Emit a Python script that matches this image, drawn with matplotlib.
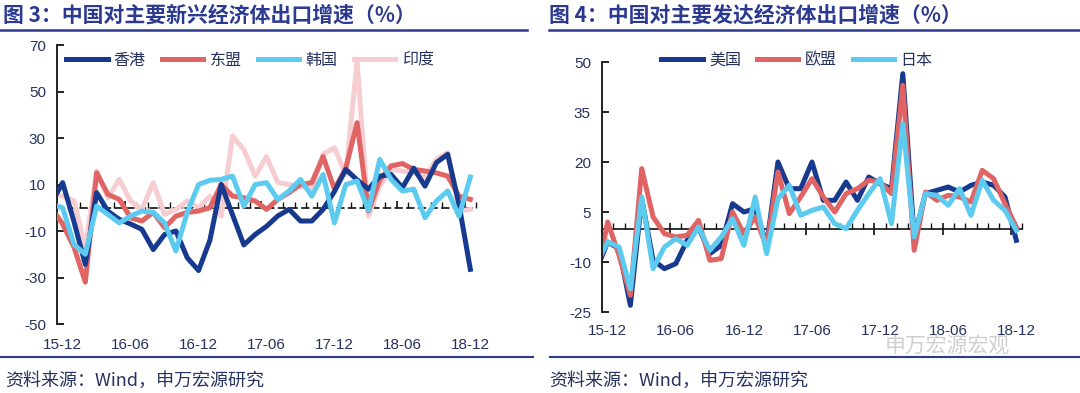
import matplotlib
matplotlib.use("Agg")
import matplotlib.pyplot as plt
import matplotlib.transforms as mtransforms
from matplotlib.lines import Line2D
import numpy as np

# monthly data, 15-11 .. 18-12 (first month only partly visible)
months = list(range(38))
tick_months = [1, 7, 13, 19, 25, 31, 37]
tick_labels = ["15-12", "16-06", "16-12", "17-06", "17-12", "18-06", "18-12"]

hongkong = [2, 10.8, -6, -24.4, 6.5, -1.5, -5, -7, -9.3, -18, -11.5, -10, -21.5, -27, -14,
            10, -3, -16, -11.5, -8, -3.5, -0.7, -5.7, -5.7, -0.7, 7, 16.5, 12, 8, 13.6,
            14.3, 8.6, 17, 9.3, 19.4, 23, 1.4, -26.5]
asean = [0, -7, -17, -32, 15, 5.7, 3.6, -4.3, -5.7, -2, -8.6, -3.6, -2, -1.4, 0,
         10, 5, 4.3, 2.9, -0.7, 3.6, 6.5, 10, 10.8, 22, 8, 17, 36.6, -1.4, 12,
         18, 19, 16.5, 15.8, 15, 13.6, 5, 3.6]
korea = [1.6, 0, -15.8, -20, 0.7, -2.9, -6.5, -3.6, -1.4, -2, -6.5, -18.6, -2, 10, 11.8,
         12.2, 13.6, 0.7, 10, 10.8, 3.6, 7.2, 12.2, 5, 14.3, -6.5, 10, 11.5, -1, 20.8,
         12.2, 7.2, 8, -4.3, 2.9, 7.2, -3.6, 13.2]
india = [6.6, 5, 3, -17, 15.8, 4.3, 12.2, 2.9, -0.7, 10.8, -2.9, -0.7, 2.9, 0, 5,
         -3.6, 30.8, 25, 13.6, 22, 10.8, 10, 9.3, 8, 23, 25.8, 14.3, 63, -3.6, 9.3,
         16.5, 15.8, 15, 13, 20.8, 23.7, -1.4, -0.7]

usa = [-12.5, -4, -6, -23, 9, -9.5, -12, -10.5, -3.5, 0.5, -7.5, -5, 7.5, 5, 6,
       -5, 20, 12, 12, 20, 8.5, 8.5, 14, 8.5, 15.5, 13.5, 12, 46.5, -2.5, 10.5,
       11.5, 12.5, 11, 13, 14, 13, 9.5, -3.5]
eu = [-15, 2, -8, -20, 18, 3.5, -1.5, -2.5, -2, 2.5, -9.5, -9, 5, -1.5, 3.5,
      -5.5, 17, 4.5, 9.5, 15, 9.5, 5, 10.5, 12, 14.5, 14, 10.5, 43, -6.5, 11,
      8.5, 10, 9.5, 8, 17.5, 15, 7.5, 0.5]
japan = [-10.6, -4, -5.5, -18, 9.5, -12, -5.5, -3, -5, 0.5, -6.5, -2.5, 3, -5, 9.5,
         -7.5, 9, 13, 4, 5.5, 6.5, 1.5, 0, 5.5, 10.5, 15, 1.5, 31.5, -2.5, 10.5,
         10, 7, 12, 4, 14.5, 8.5, 5.5, -0.5]

NAVY = "#173A8E"
RED = "#E06464"
CYAN = "#5CCBEF"
PINK = "#F6CDD0"
TITLE = "#2B3990"
TEXT = "#26325F"
CJK = ["Noto Sans CJK SC", "DejaVu Sans"]
NUM = ["Liberation Sans", "DejaVu Sans"]

W, H = 1080, 393
fig = plt.figure(figsize=(W / 100, H / 100), dpi=100)


def fx(px):
    return px / W


def fy(py):
    return 1 - py / H


def style_axes(ax, yticks, dashed):
    ax.set_xlim(0.5, 37.5)
    ax.set_ylim(yticks[0], yticks[-1])
    ax.set_yticks(yticks)
    ax.set_yticklabels([str(t) for t in yticks], family=NUM, fontsize=11, color=TEXT)
    for s in ["top", "right"]:
        ax.spines[s].set_visible(False)
    ax.spines["left"].set_linewidth(1.4)
    ax.spines["left"].set_color("#222222")
    ax.spines["bottom"].set_position(("data", 0))
    ax.spines["bottom"].set_linewidth(1.2)
    ax.spines["bottom"].set_color("#111111")
    if dashed:
        ax.spines["bottom"].set_linestyle((0, (4, 3)))
    ax.spines["bottom"].set_zorder(1)
    ax.tick_params(axis="y", direction="in", length=5, width=1.4, pad=8, color="#222222")
    ax.set_xticks(np.arange(0.5, 38, 6))
    ax.set_xticks(np.arange(0.5, 38, 1), minor=True)
    ax.set_xticklabels([])
    ax.tick_params(axis="x", which="major", direction="inout" if not dashed else "in",
                   length=8 if not dashed else 5, width=1.2, color="#111111")
    ax.tick_params(axis="x", which="minor", direction="in", length=4, width=1.0, color="#111111")
    trans = mtransforms.blended_transform_factory(ax.transData, ax.transAxes)
    for m, lab in zip(tick_months, tick_labels):
        ax.text(m, -0.075, lab, transform=trans, ha="center", va="center",
                family=NUM, fontsize=11, color=TEXT)


# left panel
axL = fig.add_axes([fx(57), fy(324), fx(419), 279 / H])
axL.plot(months, india, color=PINK, lw=3.6, zorder=2, label="印度")
axL.plot(months, asean, color=RED, lw=3.6, zorder=3, label="东盟")
axL.plot(months, hongkong, color=NAVY, lw=3.6, zorder=4, label="香港")
axL.plot(months, korea, color=CYAN, lw=3.6, zorder=5, label="韩国")
style_axes(axL, [-50, -30, -10, 10, 30, 50, 70], True)
h, l = axL.get_legend_handles_labels()
order = [2, 1, 3, 0]
axL.legend([h[i] for i in order], [l[i] for i in order], ncol=4, frameon=False,
           loc="center left", bbox_to_anchor=(fx(66), fy(60)), bbox_transform=fig.transFigure,
           borderpad=0, borderaxespad=0, handlelength=2.6, handletextpad=0.4,
           columnspacing=1.0, prop={"family": CJK, "size": 11.5}, labelcolor=TEXT)

# right panel
axR = fig.add_axes([fx(602), fy(312), fx(420), 250 / H])
axR.plot(months, usa, color=NAVY, lw=3.6, label="美国")
axR.plot(months, eu, color=RED, lw=3.6, label="欧盟")
axR.plot(months, japan, color=CYAN, lw=3.6, label="日本")
style_axes(axR, [-25, -10, 5, 20, 35, 50], False)
axR.legend(ncol=3, frameon=False, loc="center left", bbox_to_anchor=(fx(661), fy(60)),
           bbox_transform=fig.transFigure, borderpad=0, borderaxespad=0, handlelength=2.6,
           handletextpad=0.4, columnspacing=1.0, prop={"family": CJK, "size": 11.5},
           labelcolor=TEXT)

# titles, rules and footers
fig.text(fx(3), fy(15), "图 3：中国对主要新兴经济体出口增速（%）", family=CJK, fontsize=15,
         fontweight="bold", color=TITLE, ha="left", va="center")
fig.text(fx(549), fy(15), "图 4：中国对主要发达经济体出口增速（%）", family=CJK, fontsize=15,
         fontweight="bold", color=TITLE, ha="left", va="center")
fig.add_artist(Line2D([0, fx(527)], [fy(30), fy(30)], color=TITLE, lw=1.8))
fig.add_artist(Line2D([fx(549), 1], [fy(30), fy(30)], color=TITLE, lw=1.8))
fig.add_artist(Line2D([0, fx(533)], [fy(357), fy(357)], color=TITLE, lw=1.5))
fig.add_artist(Line2D([fx(550), 1], [fy(357), fy(357)], color=TITLE, lw=1.5))
fig.text(fx(5), fy(381), "资料来源：Wind，申万宏源研究", family=CJK, fontsize=13,
         color=TEXT, ha="left", va="center")
fig.text(fx(549), fy(381), "资料来源：Wind，申万宏源研究", family=CJK, fontsize=13,
         color=TEXT, ha="left", va="center")
fig.text(fx(885), fy(347), "申万宏源宏观", family=CJK, fontsize=15, color="#CFCFCF",
         ha="left", va="center", zorder=0)

fig.savefig("out.png", dpi=100)
